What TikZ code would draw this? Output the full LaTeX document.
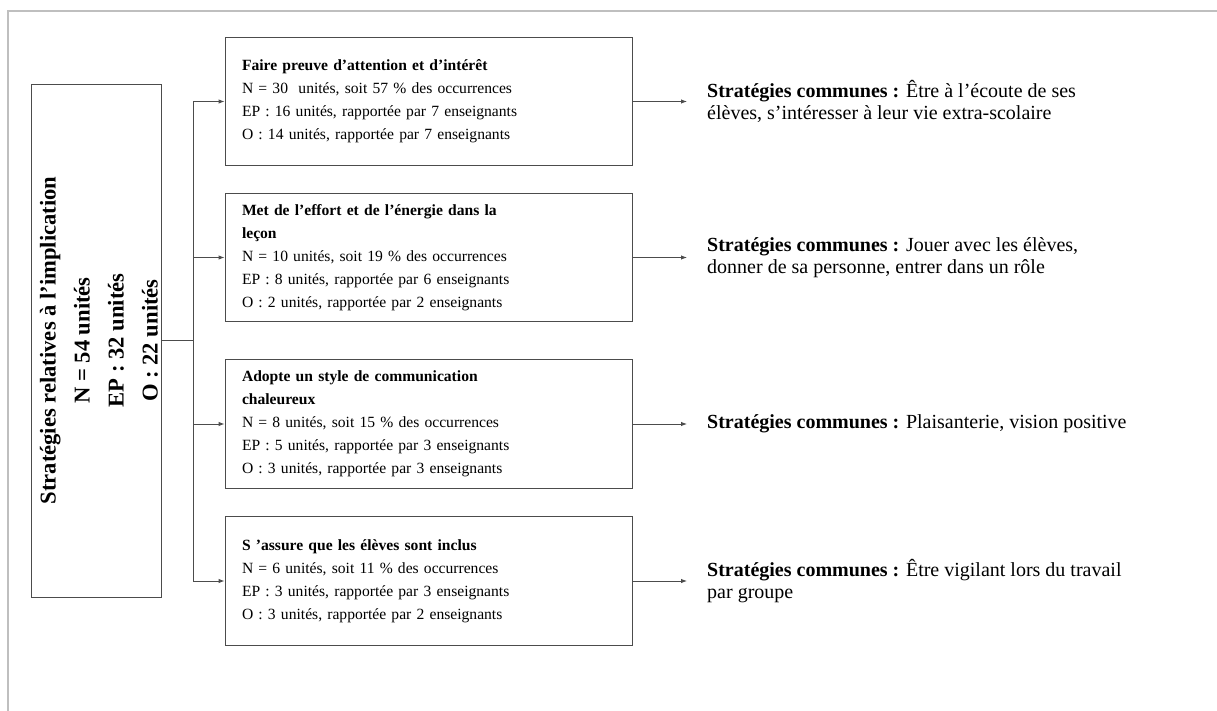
\documentclass[tikz,border=0pt]{standalone}
\usepackage{fontspec}
\setmainfont{Liberation Serif}
\usetikzlibrary{arrows.meta}
\tikzset{
  trait/.style={draw=black!70, line width=0.9pt},
  fleche/.style={trait, -{Latex[length=6pt,width=4.5pt]}},
  boite/.style={draw=black!70, line width=0.9pt, minimum height=128.5pt, text width=373pt,
    inner xsep=17pt, align=left, font=\fontsize{15.6}{23}\selectfont},
  commune/.style={anchor=west, inner sep=0pt, align=left, font=\fontsize{20}{22}\selectfont}
}
\begin{document}
\begin{tikzpicture}[x=1pt,y=-1pt]
      \useasboundingbox (0,0) rectangle (1217,711);
      \draw[black!25, line width=1.5pt] (8,711)--(8,11)--(1217,11);
      % left box
      \node[draw=black!70, line width=0.9pt, minimum width=130pt, minimum height=513pt](impl)at(96,340.5){};
      \node[rotate=90, align=center, font=\fontsize{22.6}{34}\selectfont\bfseries](implTxt)at(99,340.5)
        {Stratégies relatives à l’implication\\N = 54 unités\\EP : 32 unités\\O : 22 unités};
      \coordinate(fork)at(193,340.5);
      % boxes
      \node[boite](b1)at(428.5,101.5){\textbf{Faire preuve d’attention et d’intérêt}\\
        N = 30\ \ unités, soit 57 \% des occurrences\\
        EP : 16 unités, rapportée par 7 enseignants\\
        O : 14 unités, rapportée par 7 enseignants};
      \node[boite](b2)at(428.5,257.5){\textbf{Met de l’effort et de l’énergie dans la}\\\textbf{leçon}\\
        N = 10 unités, soit 19 \% des occurrences\\
        EP : 8 unités, rapportée par 6 enseignants\\
        O : 2 unités, rapportée par 2 enseignants};
      \node[boite](b3)at(428.5,424){\textbf{Adopte un style de communication}\\\textbf{chaleureux}\\
        N = 8 unités, soit 15 \% des occurrences\\
        EP : 5 unités, rapportée par 3 enseignants\\
        O : 3 unités, rapportée par 3 enseignants};
      \node[boite](b4)at(428.5,581){\textbf{S ’assure que les élèves sont inclus}\\
        N = 6 unités, soit 11 \% des occurrences\\
        EP : 3 unités, rapportée par 3 enseignants\\
        O : 3 unités, rapportée par 2 enseignants};
      % common strategies
      \node[commune](c1)at(707,101.5){\textbf{Stratégies communes :} Être à l’écoute de ses\\élèves, s’intéresser à leur vie extra-scolaire};
      \node[commune](c2)at(707,257.5){\textbf{Stratégies communes :} Jouer avec les élèves,\\donner de sa personne, entrer dans un rôle};
      \node[commune](c3)at(707,424){\textbf{Stratégies communes :} Plaisanterie, vision positive};
      \node[commune](c4)at(707,581){\textbf{Stratégies communes :} Être vigilant lors du travail\\par groupe};
      \draw[trait](impl.east)--(fork);
      \foreach \i in {1,...,4}{
        \draw[fleche](fork)|-(b\i.west);
        \draw[fleche, shorten >=20pt](b\i.east)--(c\i.west);
      }
    \end{tikzpicture}
\end{document}
